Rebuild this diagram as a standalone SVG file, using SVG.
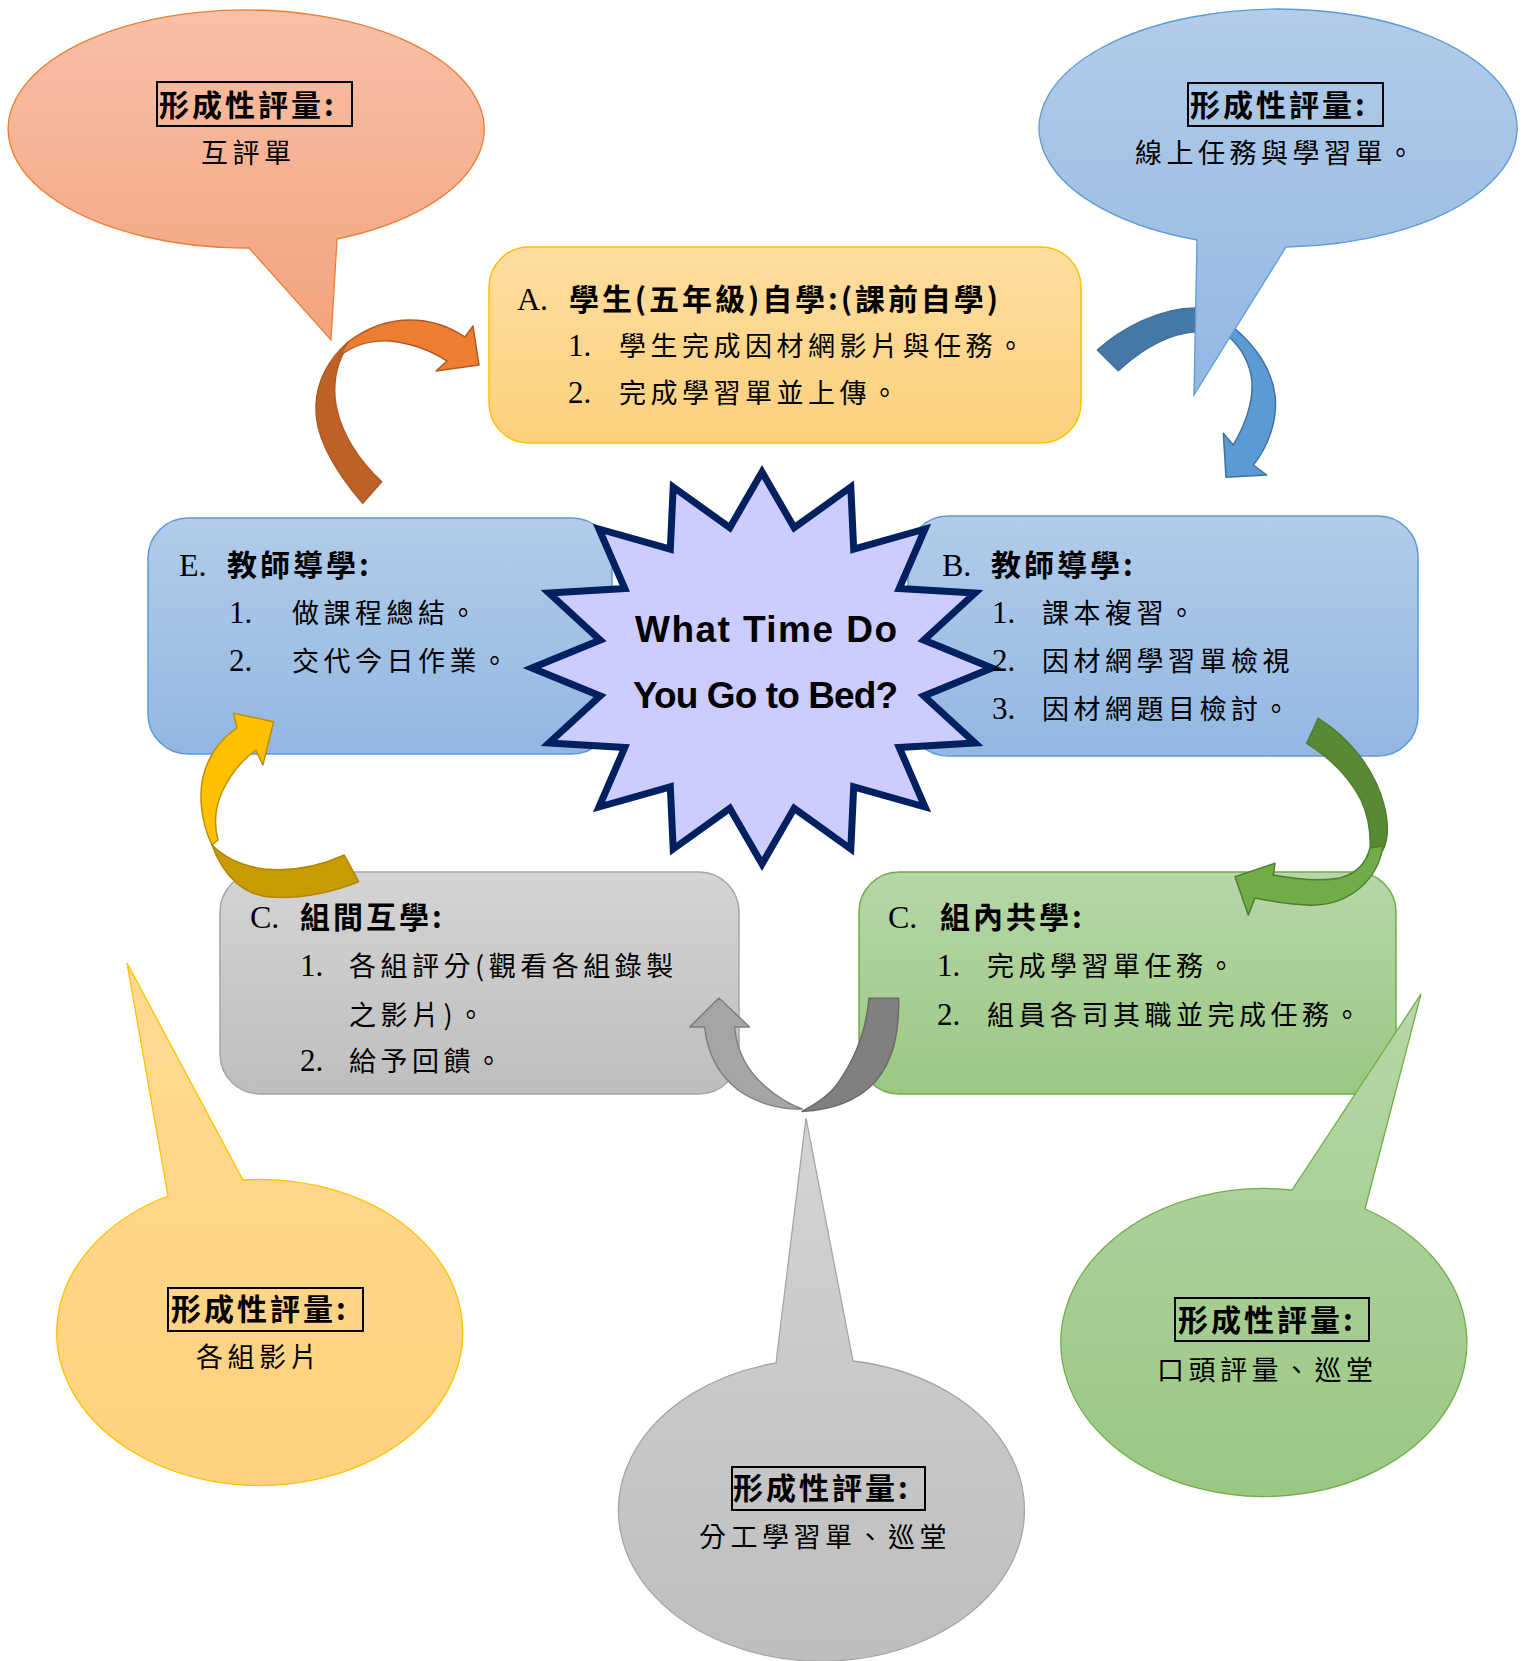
<svg xmlns="http://www.w3.org/2000/svg" width="1523" height="1661" viewBox="0 0 1523 1661">
<defs>
<linearGradient id="gPeach" x1="0" y1="0" x2="0" y2="1"><stop offset="0" stop-color="#F8C0A7"/><stop offset="1" stop-color="#F4A37E"/></linearGradient>
<linearGradient id="gBlue" x1="0" y1="0" x2="0" y2="1"><stop offset="0" stop-color="#B2CCE9"/><stop offset="1" stop-color="#93B7E2"/></linearGradient>
<linearGradient id="gGold" x1="0" y1="0" x2="0" y2="1"><stop offset="0" stop-color="#FEDD9E"/><stop offset="1" stop-color="#FCD17D"/></linearGradient>
<linearGradient id="gGray" x1="0" y1="0" x2="0" y2="1"><stop offset="0" stop-color="#D4D4D4"/><stop offset="1" stop-color="#BEBEBE"/></linearGradient>
<linearGradient id="gGreen" x1="0" y1="0" x2="0" y2="1"><stop offset="0" stop-color="#B6D7A8"/><stop offset="1" stop-color="#9BC783"/></linearGradient>
<linearGradient id="gYellow" x1="0" y1="0" x2="0" y2="1"><stop offset="0" stop-color="#FFDA92"/><stop offset="1" stop-color="#FED27E"/></linearGradient>
</defs>
<style>
.cjk{font-family:"Noto Sans CJK TC","Noto Sans CJK SC",sans-serif;font-size:27px;letter-spacing:4.5px;fill:#000}
.hd{font-family:"Noto Sans CJK TC","Noto Sans CJK SC",sans-serif;font-size:30px;font-weight:700;letter-spacing:3px;fill:#000}
.lat{font-family:"Liberation Serif",serif;font-size:31px;fill:#000}
.latb{font-family:"Liberation Serif",serif;font-size:32px;fill:#000}
.st{font-family:"Liberation Sans",Arial,sans-serif;font-size:37px;font-weight:700;fill:#000}
.tbox{fill:none;stroke:#000;stroke-width:2}
.bx{stroke-width:1.5}
.co{stroke-width:1.3}
</style>

<g id="node-A">
<rect class="bx" x="489" y="247" width="592" height="196" rx="40" fill="url(#gGold)" stroke="#FFC000"/>
<text class="latb" x="517" y="310">A.</text>
<text class="hd" x="569" y="310" textLength="432" lengthAdjust="spacing">學生(五年級)自學:(課前自學)</text>
<text class="lat" x="568" y="356">1.</text>
<text class="cjk" x="619" y="356">學生完成因材網影片與任務。</text>
<text class="lat" x="568" y="403">2.</text>
<text class="cjk" x="619" y="403">完成學習單並上傳。</text>
</g>

<g id="node-E">
<rect class="bx" x="148" y="518" width="464" height="236" rx="40" fill="url(#gBlue)" stroke="#5B9BD5"/>
<text class="latb" x="179" y="576">E.</text>
<text class="hd" x="227" y="576">教師導學:</text>
<text class="lat" x="229" y="623">1.</text>
<text class="cjk" x="292" y="623">做課程總結。</text>
<text class="lat" x="229" y="671">2.</text>
<text class="cjk" x="292" y="671">交代今日作業。</text>
</g>

<g id="node-B">
<rect class="bx" x="908" y="516" width="510" height="240" rx="40" fill="url(#gBlue)" stroke="#5B9BD5"/>
</g>

<g id="node-C-inter">
<rect class="bx" x="220" y="872" width="519" height="222" rx="40" fill="url(#gGray)" stroke="#A5A5A5"/>
<text class="latb" x="250" y="928">C.</text>
<text class="hd" x="300" y="928">組間互學:</text>
<text class="lat" x="300" y="976">1.</text>
<text class="cjk" x="349" y="976">各組評分(觀看各組錄製</text>
<text class="cjk" x="349" y="1025">之影片)。</text>
<text class="lat" x="300" y="1071">2.</text>
<text class="cjk" x="349" y="1071">給予回饋。</text>
</g>

<g id="node-C-intra">
<rect class="bx" x="859" y="872" width="537" height="222" rx="40" fill="url(#gGreen)" stroke="#70AD47"/>
<text class="latb" x="888" y="928">C.</text>
<text class="hd" x="940" y="928">組內共學:</text>
<text class="lat" x="937" y="976">1.</text>
<text class="cjk" x="987" y="976">完成學習單任務。</text>
<text class="lat" x="937" y="1025">2.</text>
<text class="cjk" x="987" y="1025">組員各司其職並完成任務。</text>
</g>

<g id="node-center">
<polygon fill="#CCCCFF" stroke="#002060" stroke-width="7" stroke-linejoin="miter" points="762,472 794.2,527.7 850.8,487 853.7,549.1 925,529 899.2,588.6 975,593 923.8,640.1 992,668 923.8,695.9 975,743 899.2,747.4 925,807 853.7,786.9 850.8,849 794.2,808.3 762,864 729.8,808.3 673.2,849 670.3,786.9 599,807 624.8,747.4 549,743 600.2,695.9 532,668 600.2,640.1 549,593 624.8,588.6 599,529 670.3,549.1 673.2,487 729.8,527.7"/>
<text class="st" x="635" y="642" textLength="262" lengthAdjust="spacing">What Time Do</text>
<text class="st" x="633" y="708" textLength="265" lengthAdjust="spacing">You Go to Bed?</text>
</g>

<g id="node-B-text">
<text class="latb" x="942" y="576">B.</text>
<text class="hd" x="991" y="576">教師導學:</text>
<text class="lat" x="992" y="623">1.</text>
<text class="cjk" x="1042" y="623">課本複習。</text>
<text class="lat" x="992" y="671">2.</text>
<text class="cjk" x="1042" y="671">因材網學習單檢視</text>
<text class="lat" x="992" y="719">3.</text>
<text class="cjk" x="1042" y="719">因材網題目檢討。</text>
</g>

<g id="connectors" stroke-width="1.5" stroke-linejoin="round">
<path d="M 362.7,503.3 C 336,472 314,437 316,405 C 317,381 327,361 348,342 L 341.7,356.7 C 334,373 333,393 337,410 C 342,433 358,460 381.7,481.7 Z" fill="#BF6127" stroke="#AE5A21"/>
<path d="M 348,342 C 368,327 390,320 410,320 C 432,320 450,327 465,337 L 473,326 L 479,365 L 436,371 L 447,361 C 430,350 410,343 390,341 C 370,340 352,346 340,356 Z" fill="#ED7D31" stroke="#AE5A21"/>
<path d="M 1097.3,350 C 1122,328 1160,308 1195,308 C 1210,308 1222,315 1233,327 L 1226.7,335 C 1216,331 1206,331 1196.7,331.7 C 1170,333 1142,349 1118.3,370.7 Z" fill="#4678A6" stroke="#41719C"/>
<path d="M 1233,327 C 1256,346 1272,370 1275,395 C 1278,420 1268,447 1253.3,465 L 1266.7,475 L 1226,477.3 L 1223.3,433.3 L 1233.3,445 C 1245,425 1253,402 1252,382 C 1250,362 1240,346 1226.7,335 Z" fill="#5B9BD5" stroke="#41719C"/>
<path d="M 1306.7,743.3 L 1318.3,718.3 C 1350,738 1375,770 1384,805 C 1389,825 1388,840 1383,850 L 1370,850 C 1371,832 1368,815 1361,800 C 1350,778 1330,758 1306.7,743.3 Z" fill="#588A36" stroke="#507E30"/>
<path d="M 1383,846 C 1378,880 1350,903 1316.7,905 C 1298,906 1275,902 1255,898 L 1248.3,915 L 1235,876.7 L 1275,863.3 L 1273.3,875 C 1295,879 1320,882 1340,878 C 1355,874 1366,864 1370,848 Z" fill="#70AD47" stroke="#507E30"/>
<path d="M 212,845 C 200,820 198,790 205,770 C 211,752 222,738 237,728 L 233.6,713.3 L 273.6,721.7 L 262.9,765 L 255.7,750 C 242,760 230,775 222,792 C 214,810 214,825 218,840 Z" fill="#FFC000" stroke="#BF9000"/>
<path d="M 344.3,855 L 358.6,881.7 C 330,893 300,899 270,897 C 245,895 224,878 212,845 C 224,857 242,866 264,869 C 292,872 320,866 344.3,855 Z" fill="#C89B00" stroke="#B08600"/>
<path d="M 704.7,1027 L 689.8,1027 L 719,998 L 749.5,1027 L 734.5,1027 C 737,1052 748,1072 766,1087 C 777,1097 789,1104 802,1109 C 778,1110 755,1102 738,1090 C 718,1074 707,1052 704.7,1027 Z" fill="#A5A5A5" stroke="#7F7F7F"/>
<path d="M 868.9,998.3 L 898.7,998.3 C 899,1035 893,1061 875,1082 C 858,1100 832,1110 802,1111.5 C 818,1103 830,1095 838,1083 C 852,1063 866,1035 868.9,998.3 Z" fill="#808080" stroke="#6B6B6B"/>
</g>

<g id="callout-peer-review">
<path class="co" d="M 249,248 L 331,340 L 337,239 A 238 119 0 1 0 249,248 Z" fill="url(#gPeach)" stroke="#ED7D31"/>
<rect class="tbox" x="157" y="82" width="195" height="44"/>
<text class="hd" x="159" y="116">形成性評量:</text>
<text class="cjk" x="201" y="163">互評單</text>
</g>

<g id="callout-online">
<path class="co" d="M 1197,240 L 1194,395 L 1286,247 A 239 119 0 1 0 1197,240 Z" fill="url(#gBlue)" stroke="#5B9BD5"/>
<rect class="tbox" x="1188" y="83" width="195" height="43"/>
<text class="hd" x="1190" y="116">形成性評量:</text>
<text class="cjk" x="1135" y="163">線上任務與學習單。</text>
</g>

<g id="callout-videos">
<path class="co" d="M 168,1196 L 127,963 L 243,1180 A 203 153 0 1 1 168,1196 Z" fill="url(#gYellow)" stroke="#FFC000"/>
<rect class="tbox" x="168" y="1288" width="195" height="43"/>
<text class="hd" x="171" y="1320">形成性評量:</text>
<text class="cjk" x="196" y="1367">各組影片</text>
</g>

<g id="callout-worksheet">
<path class="co" d="M 776,1363 L 806,1118 L 853,1361 A 203 151 0 1 1 776,1363 Z" fill="url(#gGray)" stroke="#A5A5A5"/>
<rect class="tbox" x="732" y="1467" width="193" height="43"/>
<text class="hd" x="733" y="1499">形成性評量:</text>
<text class="cjk" x="699" y="1547">分工學習單、巡堂</text>
</g>

<g id="callout-oral">
<path class="co" d="M 1292,1190 L 1421,994 L 1365,1209 A 203 154 0 1 1 1292,1190 Z" fill="url(#gGreen)" stroke="#70AD47"/>
<rect class="tbox" x="1175" y="1298" width="194" height="43"/>
<text class="hd" x="1178" y="1331">形成性評量:</text>
<text class="cjk" x="1157" y="1380">口頭評量、巡堂</text>
</g>
</svg>
